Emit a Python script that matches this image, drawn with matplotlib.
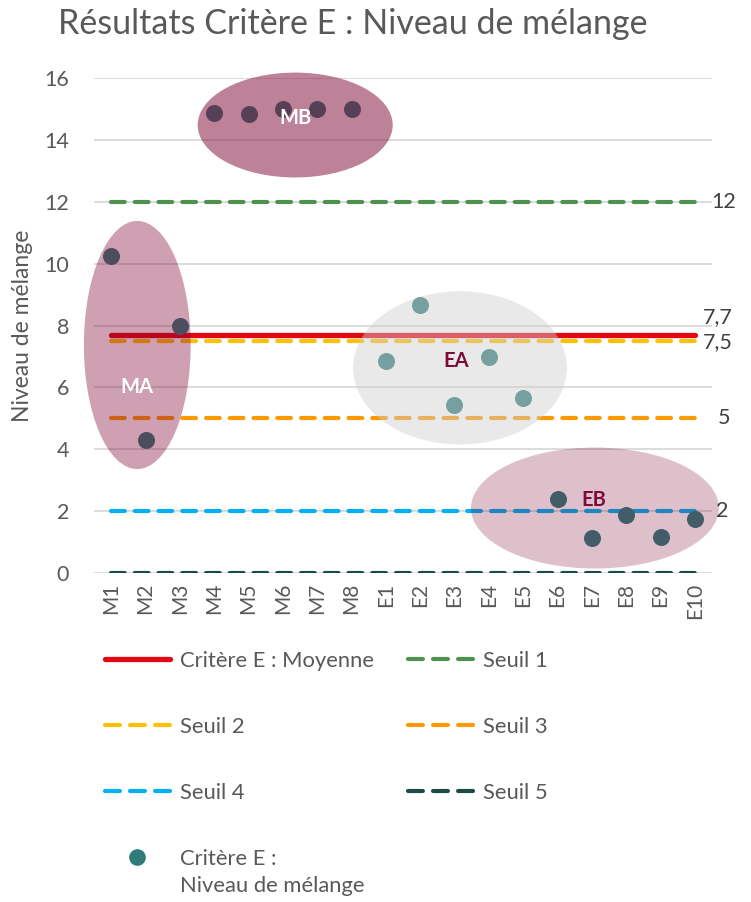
import matplotlib
matplotlib.use("Agg")
import matplotlib.pyplot as plt
from matplotlib.lines import Line2D
from matplotlib.patches import Ellipse

# ── Data ─────────────────────────────────────────────────────────────────────
categories = ["M1", "M2", "M3", "M4", "M5", "M6", "M7", "M8",
              "E1", "E2", "E3", "E4", "E5", "E6", "E7", "E8", "E9", "E10"]
niveau = [10.25, 4.3, 7.98, 14.87, 14.84, 15.0, 15.0, 15.0,
          6.85, 8.66, 5.43, 6.98, 5.66, 2.39, 1.13, 1.87, 1.16, 1.75]
moyenne = 7.7
seuils = [12, 7.5, 5, 2, 0]
seuil_names = ["Seuil 1", "Seuil 2", "Seuil 3", "Seuil 4", "Seuil 5"]
right_labels = ["12", "7,7", "7,5", "5", "2"]
right_values = [12, 7.7, 7.5, 5, 2]

# groups: label, centre (x, y), width, height
groups = ["MA", "MB", "EA", "EB"]
group_centres = [(0.76, 7.37), (5.36, 14.48), (10.16, 6.63), (14.09, 2.10)]
group_sizes = [(3.11, 8.02), (5.68, 3.39), (6.23, 4.95), (7.22, 3.91)]

# ── Style ────────────────────────────────────────────────────────────────────
GREY_TXT = "#595959"
seuil_colors = ["#4E9150", "#FFC000", "#FF9900", "#00B0F0", "#1B4A47"]
plt.rcParams["font.family"] = ["Lato", "DejaVu Sans"]

fig = plt.figure(figsize=(7.51, 9.02), dpi=100)
ax = fig.add_axes([94 / 751, 1 - 573 / 902, 618 / 751, 495 / 902])

x = list(range(len(categories)))
x0, x1 = x[0], x[-1]

# ── Grid ─────────────────────────────────────────────────────────────────────
ax.set_xlim(-0.5, len(categories) - 0.5)
ax.set_ylim(0, 16)
ax.set_yticks(range(0, 17, 2))
ax.grid(axis="y", color="#D9D9D9", linewidth=1.3)
ax.set_axisbelow(True)
for s in ax.spines.values():
    s.set_visible(False)

# ── Lines ────────────────────────────────────────────────────────────────────
ax.plot([x0, x1], [moyenne, moyenne], color="#E30613", linewidth=3.8,
        solid_capstyle="round", zorder=3)
for val, col in zip(seuils, seuil_colors):
    ax.plot([x0, x1], [val, val], color=col, linewidth=3.0,
            dashes=(3.3, 2.4), dash_capstyle="round", zorder=2)

# ── Points ───────────────────────────────────────────────────────────────────
ax.scatter(x, niveau, s=150, color="#2E7B79", zorder=4, linewidths=0)

# ── Ellipses (drawn on top, translucent) ─────────────────────────────────────
ell_colors = ["#7E0633", "#7E0633", "#CFCFCF", "#7E0633"]
ell_alpha = [0.38, 0.5, 0.45, 0.25]
for (cx, cy), (w, h), c, a in zip(group_centres, group_sizes, ell_colors, ell_alpha):
    ax.add_patch(Ellipse((cx, cy), w, h, facecolor=c, alpha=a, edgecolor="none",
                         zorder=5, clip_on=False))

label_pos = [(0.76, 6.0), (5.36, 14.7), (10.06, 6.85), (14.06, 2.36)]
label_col = ["white", "white", "#7B0C3A", "#7B0C3A"]
for g, (lx, ly), c in zip(groups, label_pos, label_col):
    ax.text(lx, ly, g, color=c, fontsize=14.5, fontweight="bold",
            ha="center", va="center", zorder=6)

# ── Right-hand value labels ──────────────────────────────────────────────────
offsets = [(12, 0), (6, 13), (6, -1), (16.5, 0), (15, 0)]
for txt, val, off in zip(right_labels, right_values, offsets):
    ax.annotate(txt, (x1, val), xytext=off,
                textcoords="offset points", fontsize=15.5, color="#404040",
                va="center", ha="left", annotation_clip=False)

# ── Axes labels ──────────────────────────────────────────────────────────────
ax.set_xticks(x)
ax.set_xticklabels(categories, rotation=90, fontsize=15, color=GREY_TXT)
ax.tick_params(axis="both", length=0, colors=GREY_TXT)
ax.tick_params(axis="x", pad=7, labelsize=15)
ax.tick_params(axis="y", pad=18, labelsize=15.5)
ax.set_ylabel("Niveau de mélange", fontsize=16.5, color=GREY_TXT, labelpad=8)

fig.text(58 / 751, 1 - 24 / 902, "Résultats Critère E : Niveau de mélange",
         fontsize=24.5, color=GREY_TXT, ha="left", va="center")

# ── Legend ───────────────────────────────────────────────────────────────────
leg_dash = (3.57, 2.44)
h_mean = Line2D([], [], color="#E30613", linewidth=3.8, solid_capstyle="round")
h_seuils = [Line2D([], [], color=c, linewidth=3.0, dashes=leg_dash,
                   dash_capstyle="round") for c in seuil_colors]
h_pts = Line2D([], [], linestyle="none", marker="o", markersize=12,
               color="#2E7B79", markeredgewidth=0)

handles = [h_mean, h_seuils[1], h_seuils[3], h_pts,
           h_seuils[0], h_seuils[2], h_seuils[4]]
labels = ["Critère E : Moyenne", "Seuil 2", "Seuil 4", "Critère E :",
          "Seuil 1", "Seuil 3", "Seuil 5"]
leg = fig.legend(handles, labels, ncol=2, loc="upper left",
                 bbox_to_anchor=(96 / 751, 1 - 642 / 902), frameon=False,
                 fontsize=15.8, handlelength=2.97, handletextpad=0.45,
                 labelspacing=2.1, columnspacing=1.55, borderaxespad=0)
for t in leg.get_texts():
    t.set_color(GREY_TXT)

# second line of the scatter entry, placed under "Critère E :"
fig.canvas.draw()
bb = leg.get_texts()[3].get_window_extent()
fig.text(bb.x0 / 751, (bb.y0 - 27) / 902, "Niveau de mélange",
         fontsize=15.8, color=GREY_TXT, ha="left", va="bottom")

fig.savefig("out.png", dpi=100)
